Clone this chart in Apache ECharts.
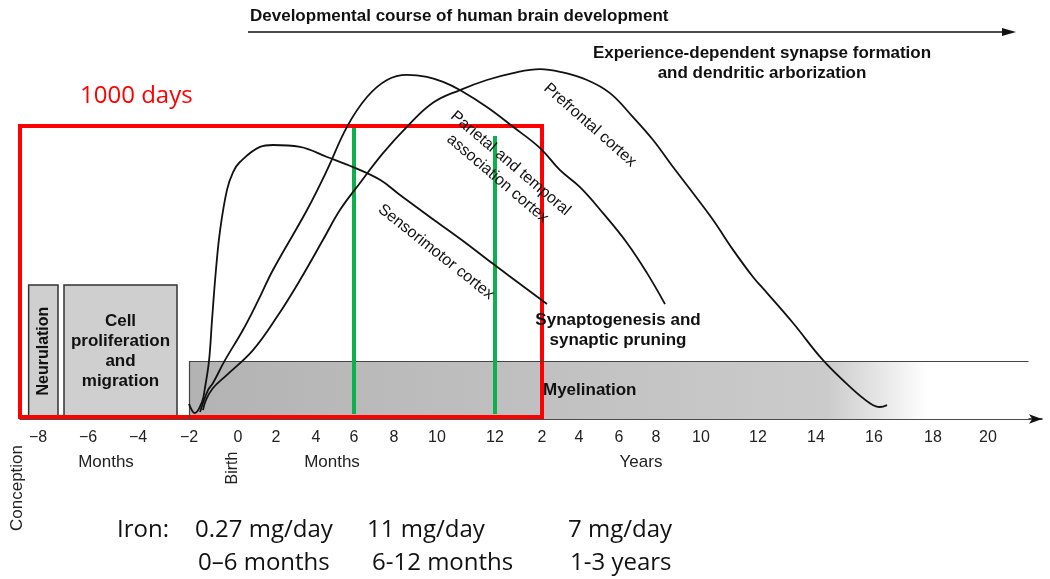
<!DOCTYPE html>
<html><head><meta charset="utf-8">
<script src="https://cdn.jsdelivr.net/npm/echarts@6/dist/echarts.min.js"></script>
<style>html,body{margin:0;padding:0;background:#fff}#c{width:1050px;height:579px}</style>
</head><body><div id="c"></div>
<script>
// Hand-drawn time scale of the original figure: anchor months -> axis position
const SCALE_MONTHS = [-9, -8, -6, -4, -2, 0, 2, 4, 6, 8, 10, 12, 24, 48, 72, 96, 120, 144, 168, 192, 216, 240, 264];
const SCALE_POS    = [0, 18, 68, 118, 169, 218, 256, 296, 334, 374, 417, 475, 522, 559, 599, 636, 681, 738, 796, 854, 913, 968, 1022];

// Tick labels (months before/after birth, then years)
const TICK_MONTHS = [-8, -6, -4, -2, 0, 2, 4, 6, 8, 10, 12, 24, 48, 72, 96, 120, 144, 168, 192, 216, 240];
const TICK_LABELS = ['\u22128', '\u22126', '\u22124', '\u22122', '0', '2', '4', '6', '8', '10', '12', '2', '4', '6', '8', '10', '12', '14', '16', '18', '20'];

// Curves: [age in months, relative level]
const SENSORIMOTOR = [[-2.0,3.9],[-1.76,1.5],[-1.47,4.4],[-1.35,8.0],[-1.18,15.2],[-1.06,25.6],[-0.9,38.5],[-0.73,48.8],[-0.45,59.2],[-0.2,63.8],[0.1,66.4],[1.16,70.3],[1.84,70.8],[3.2,70.3],[4.58,67.7],[5.95,65.1],[7.3,61.8],[8.28,57.9],[9.67,52.2],[10.9,46.0],[11.93,40.1],[18.4,34.9],[27.2,29.7]];
const PARIETAL = [[-1.55,1.8],[-1.22,7.5],[-1.02,9.3],[-0.53,15.2],[0.26,23.0],[1.05,30.5],[1.84,38.5],[3.55,54.0],[4.58,64.3],[5.63,75.5],[6.65,83.2],[7.65,87.6],[8.6,88.9],[9.53,88.4],[10.21,87.1],[10.79,85.0],[11.72,80.6],[16.6,75.5],[23.5,70.0],[35.7,64.3],[48.6,59.9],[62.4,53.2],[77.2,45.5],[90.2,37.7],[100.8,29.7]];
const PREFRONTAL = [[-1.43,2.3],[-1.31,4.9],[-1.02,8.0],[-0.45,11.4],[0.79,17.8],[2.05,26.4],[3.2,35.9],[4.37,46.3],[5.26,54.0],[6.3,61.0],[7.45,68.7],[8.6,75.5],[9.81,81.7],[10.79,85.0],[11.72,87.6],[16.6,89.4],[23.5,90.4],[35.7,89.7],[52.8,87.6],[66.6,84.2],[81.1,78.0],[94.1,72.1],[105.1,65.1],[115.7,58.4],[125.1,51.4],[133.5,43.7],[141.9,36.7],[147.7,32.6],[158.5,24.8],[170.9,15.2],[182.1,8.3],[190.3,4.1],[194.4,3.1],[197.3,3.6]];

// Periods (months) and levels
const NEURULATION = [-8.52, -7.2, 34.6];
const PROLIFERATION = [-6.96, -2.47, 34.6];
const MYELINATION = [-2, 258, 15];
const WINDOW_1000_DAYS = [-9, 24, 75.7];
const IRON_MARKS = [[6, 75.2], [12, 73.1]];

function toPos(m) {
  const n = SCALE_MONTHS.length;
  for (let i = 0; i < n - 1; i++) {
    const a = SCALE_MONTHS[i], b = SCALE_MONTHS[i + 1];
    if (m <= b || i === n - 2) return SCALE_POS[i] + (m - a) / (b - a) * (SCALE_POS[i + 1] - SCALE_POS[i]);
  }
}
const conv = arr => arr.map(([m, v]) => [toPos(m), v]);

const AX = '"Liberation Sans", Arial, sans-serif';
const HUM = '"Open Sans", "Noto Sans", sans-serif';

const chart = echarts.init(document.getElementById('c'), null, {renderer: 'canvas'});
const curve = (name, data) => ({
  name, type: 'line', data: conv(data), smooth: 0.4, symbol: 'none', z: 5, clip: false,
  lineStyle: {color: '#111', width: 1.8}, silent: true, animation: false
});

const option = {
  animation: false,
  backgroundColor: '#ffffff',
  grid: {left: 20, right: 8, top: 32, bottom: 160, containLabel: false, outerBoundsMode: 'none'},
  xAxis: {
    type: 'value', min: 0, max: 1022,
    splitLine: {show: false}, axisTick: {show: false},
    axisLine: {onZero: false, symbol: ['none', 'arrow'], symbolSize: [7, 13], lineStyle: {color: '#111', width: 1.5}},
    axisLabel: {
      customValues: TICK_MONTHS.map(toPos),
      formatter: v => { const i = TICK_MONTHS.findIndex(m => Math.abs(toPos(m) - v) < 0.5); return i >= 0 ? TICK_LABELS[i] : ''; },
      fontSize: 16, fontFamily: AX, color: '#222', margin: 11
    }
  },
  yAxis: {type: 'value', min: 0, max: 100, show: false},
  series: [
    {
      type: 'line', data: [], silent: true, z: 1,
      markArea: {
        silent: true,
        data: [
          [{coord: [toPos(MYELINATION[0]), 0], itemStyle: {color: {type: 'linear', x: 0, y: 0, x2: 1, y2: 0, colorStops: [
            {offset: 0, color: '#b3b3b3'}, {offset: 0.5, color: '#c3c3c3'}, {offset: 0.76, color: '#cbcbcb'}, {offset: 0.88, color: '#ffffff'}, {offset: 1, color: '#ffffff'}]}}},
           {coord: [toPos(MYELINATION[1]), MYELINATION[2]]}],
          [{coord: [toPos(NEURULATION[0]), 0.5], name: 'Neurulation', itemStyle: {color: '#cfcfcf', borderColor: '#333', borderWidth: 1.5},
            label: {show: true, position: 'inside', rotate: 90, formatter: 'Neurulation', fontFamily: AX, fontWeight: 'bold', fontSize: 16, color: '#111'}},
           {coord: [toPos(NEURULATION[1]), NEURULATION[2]]}],
          [{coord: [toPos(PROLIFERATION[0]), 0.5], name: 'Cell', itemStyle: {color: '#cfcfcf', borderColor: '#333', borderWidth: 1.5},
            label: {show: true, position: 'inside', formatter: 'Cell\nproliferation\nand\nmigration', fontFamily: AX, fontWeight: 'bold', fontSize: 17, lineHeight: 20, color: '#111'}},
           {coord: [toPos(PROLIFERATION[1]), PROLIFERATION[2]]}]
        ]
      },
      markLine: {
        silent: true, symbol: ['none', 'none'], label: {show: false},
        lineStyle: {color: '#444', width: 1.2, type: 'solid'},
        data: [
          [{coord: [toPos(MYELINATION[0]), MYELINATION[2]]}, {coord: [toPos(MYELINATION[1]), MYELINATION[2]]}],
          [{coord: [toPos(MYELINATION[0]), 0]}, {coord: [toPos(MYELINATION[0]), MYELINATION[2]]}]
        ]
      }
    },
    curve('Sensorimotor cortex', SENSORIMOTOR),
    curve('Parietal and temporal association cortex', PARIETAL),
    curve('Prefrontal cortex', PREFRONTAL),
    {
      type: 'line', data: [], silent: true, z: 8,
      markLine: {
        silent: true, symbol: ['none', 'none'], label: {show: false},
        lineStyle: {color: '#0db14b', width: 4, type: 'solid'},
        data: IRON_MARKS.map(([m, top]) => [{coord: [toPos(m), 1.3]}, {coord: [toPos(m), top]}])
      },
      markArea: {
        silent: true,
        itemStyle: {color: 'rgba(0,0,0,0)', borderColor: '#ff0000', borderWidth: 4},
        data: [[{coord: [toPos(WINDOW_1000_DAYS[0]), 0.5]}, {coord: [toPos(WINDOW_1000_DAYS[1]), WINDOW_1000_DAYS[2]]}]]
      }
    }
  ],
  graphic: [
    {type: 'text', x: 250, y: 16, z: 20, style: {text: 'Developmental course of human brain development', font: 'bold 17px ' + AX, fill: '#111', textVerticalAlign: 'middle'}},
    {type: 'line', z: 20, shape: {x1: 248, y1: 32, x2: 1006, y2: 32}, style: {stroke: '#111', lineWidth: 1.3}},
    {type: 'polygon', z: 20, shape: {points: [[1016, 32], [1002, 28], [1002, 36]]}, style: {fill: '#111'}},
    {type: 'text', x: 762, y: 63, z: 20, style: {text: 'Experience-dependent synapse formation\nand dendritic arborization', font: 'bold 17px ' + AX, lineHeight: 20, fill: '#111', textAlign: 'center', textVerticalAlign: 'middle'}},
    {type: 'text', x: 80, y: 96, z: 20, style: {text: '1000 days', font: '24px ' + HUM, fill: '#ff0000', textVerticalAlign: 'middle'}},
    {type: 'text', x: 590, y: 125, rotation: -0.724, z: 20, style: {text: 'Prefrontal cortex', font: '16px ' + AX, fill: '#111', textAlign: 'center', textVerticalAlign: 'middle'}},
    {type: 'text', x: 504, y: 171, rotation: -0.705, z: 20, style: {text: 'Parietal and temporal\nassociation cortex', font: '16px ' + AX, lineHeight: 20, fill: '#111', textAlign: 'center', textVerticalAlign: 'middle'}},
    {type: 'text', x: 436, y: 252, rotation: -0.672, z: 20, style: {text: 'Sensorimotor cortex', font: '16px ' + AX, fill: '#111', textAlign: 'center', textVerticalAlign: 'middle'}},
    {type: 'text', x: 618, y: 330, z: 20, style: {text: 'Synaptogenesis and\nsynaptic pruning', font: 'bold 17px ' + AX, lineHeight: 20, fill: '#111', textAlign: 'center', textVerticalAlign: 'middle'}},
    {type: 'text', x: 543, y: 390, z: 20, style: {text: 'Myelination', font: 'bold 17px ' + AX, fill: '#111', textVerticalAlign: 'middle'}},
    {type: 'text', x: 106, y: 462, z: 20, style: {text: 'Months', font: '17px ' + AX, fill: '#222', textAlign: 'center', textVerticalAlign: 'middle'}},
    {type: 'text', x: 332, y: 462, z: 20, style: {text: 'Months', font: '17px ' + AX, fill: '#222', textAlign: 'center', textVerticalAlign: 'middle'}},
    {type: 'text', x: 641, y: 462, z: 20, style: {text: 'Years', font: '17px ' + AX, fill: '#222', textAlign: 'center', textVerticalAlign: 'middle'}},
    {type: 'text', x: 233, y: 468, rotation: Math.PI / 2, z: 20, style: {text: 'Birth', font: '16px ' + AX, fill: '#222', textAlign: 'center', textVerticalAlign: 'middle'}},
    {type: 'text', x: 17, y: 488, rotation: Math.PI / 2, z: 20, style: {text: 'Conception', font: '17px ' + AX, fill: '#222', textAlign: 'center', textVerticalAlign: 'middle'}},
    {type: 'text', x: 117, y: 530, z: 20, style: {text: 'Iron:', font: '24px ' + HUM, fill: '#111', textVerticalAlign: 'middle'}},
    {type: 'text', x: 195, y: 530, z: 20, style: {text: '0.27 mg/day', font: '24px ' + HUM, fill: '#111', textVerticalAlign: 'middle'}},
    {type: 'text', x: 367, y: 530, z: 20, style: {text: '11 mg/day', font: '24px ' + HUM, fill: '#111', textVerticalAlign: 'middle'}},
    {type: 'text', x: 568, y: 530, z: 20, style: {text: '7 mg/day', font: '24px ' + HUM, fill: '#111', textVerticalAlign: 'middle'}},
    {type: 'text', x: 198, y: 563, z: 20, style: {text: '0\u20136 months', font: '24px ' + HUM, fill: '#111', textVerticalAlign: 'middle'}},
    {type: 'text', x: 372, y: 563, z: 20, style: {text: '6-12 months', font: '24px ' + HUM, fill: '#111', textVerticalAlign: 'middle'}},
    {type: 'text', x: 570, y: 563, z: 20, style: {text: '1-3 years', font: '24px ' + HUM, fill: '#111', textVerticalAlign: 'middle'}}
  ]
};
chart.setOption(option);
</script>
</body></html>
